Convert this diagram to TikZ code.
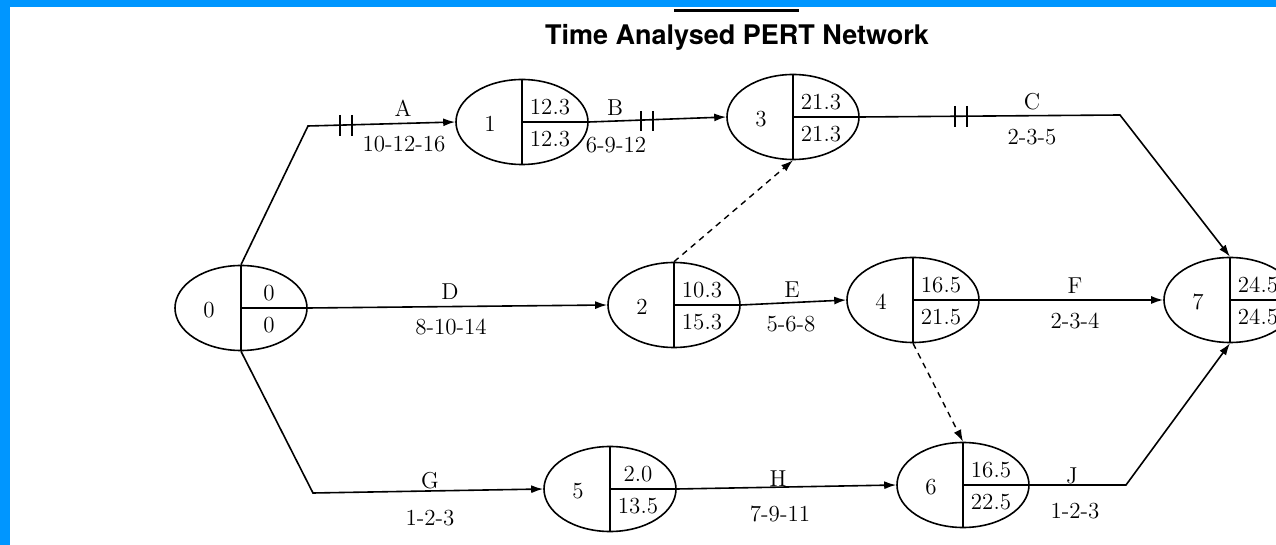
\documentclass[tikz,border=0pt]{standalone}
\usepackage{fontspec}
\newfontfamily\titlefont{TeX Gyre Heros}
\usetikzlibrary{shapes.geometric,arrows.meta}
\definecolor{frameblue}{RGB}{0,150,255}
\tikzset{
  ev/.style={ellipse, draw, line width=0.8pt, minimum width=66pt, minimum height=42.5pt, inner sep=0pt},
  divline/.style={line width=0.8pt},
  act/.style={line width=0.8pt, -{Latex[length=6pt,width=4pt]}},
  dum/.style={line width=0.7pt, dashed, dash pattern=on 3pt off 2.5pt, -{Latex[length=6pt,width=4pt]}},
  lbl/.style={font=\fontsize{11.5}{13}\selectfont, inner sep=0pt},
  tick/.style={line width=0.8pt}
}
\newcommand\pertev[6]{%
  \node[ev] (#1) at (#2,#3) {};
  \draw[divline] (#1.north) -- (#1.south) (#1.center) -- (#1.east);
  \node[lbl] (#1num) at (#2-32,#3+2) {#4};
  \node[lbl] (#1top) at (#2+28,#3-15) {#5};
  \node[lbl] (#1bot) at (#2+28,#3+17) {#6};
}
\begin{document}
\begin{tikzpicture}[x=0.5pt,y=-0.5pt]
\clip (0,0) rectangle (1276,545);
\fill[white] (0,0) rectangle (1276,545);
\fill[frameblue] (0,0) rectangle (1276,7);
\fill[frameblue] (0,0) rectangle (10,545);
% title
\draw[line width=1.5pt] (674,11) -- (799,11);
\node[font=\titlefont\bfseries\fontsize{13.5}{15}\selectfont, inner sep=0pt] (title) at (737,37) {Time Analysed PERT Network};
% events
\pertev{n0}{241}{308}{0}{0}{0}
\pertev{n1}{522}{122}{1}{12.3}{12.3}
\pertev{n3}{793}{117}{3}{21.3}{21.3}
\pertev{n2}{674}{305}{2}{10.3}{15.3}
\pertev{n4}{913}{300}{4}{16.5}{21.5}
\pertev{n7}{1230}{300}{7}{24.5}{24.5}
\pertev{n5}{610}{489}{5}{2.0}{13.5}
\pertev{n6}{963}{485}{6}{16.5}{22.5}
% bend points
\coordinate (pA) at (308,126);
\coordinate (pC) at (1120,115);
\coordinate (pG) at (313,493);
\coordinate (pJ) at (1126,485);
% activities
\draw[act] (n0.north) -- (pA) -- (n1.west);
\draw[act] (n1.east) -- (n3.west);
\draw[act] (n3.east) -- (pC) -- (n7.north);
\draw[act] (n0.east) -- (n2.west);
\draw[act] (n2.east) -- (n4.west);
\draw[act] (n4.east) -- (n7.west);
\draw[act] (n0.south) -- (pG) -- (n5.west);
\draw[act] (n5.east) -- (n6.west);
\draw[act] (n6.east) -- (pJ) -- (n7.south);
\draw[dum] (n2.north) -- (n3.south);
\draw[dum] (n4.south) -- (n6.north);
% critical ticks
\draw[tick] (340,115) -- (340,136) (352,115) -- (352,136);
\draw[tick] (641,111) -- (641,131) (653,111) -- (653,131);
\draw[tick] (955,106) -- (955,127) (967,106) -- (967,127);
% labels
\node[lbl] (lA) at (403,108) {A};
\node[lbl] (dA) at (404,144) {10-12-16};
\node[lbl] (lB) at (615,108) {B};
\node[lbl] (dB) at (616,145) {6-9-12};
\node[lbl] (lC) at (1032,102) {C};
\node[lbl] (dC) at (1032,137) {2-3-5};
\node[lbl] (lD) at (450,292) {D};
\node[lbl] (dD) at (451,327) {8-10-14};
\node[lbl] (lE) at (792,290) {E};
\node[lbl] (dE) at (791,324) {5-6-8};
\node[lbl] (lF) at (1075,286) {F};
\node[lbl] (dF) at (1075,321) {2-3-4};
\node[lbl] (lG) at (430,481) {G};
\node[lbl] (dG) at (430,518) {1-2-3};
\node[lbl] (lH) at (778,479) {H};
\node[lbl] (dH) at (780,514) {7-9-11};
\node[lbl] (lJ) at (1072,476) {J};
\node[lbl] (dJ) at (1075,511) {1-2-3};
\end{tikzpicture}
\end{document}
